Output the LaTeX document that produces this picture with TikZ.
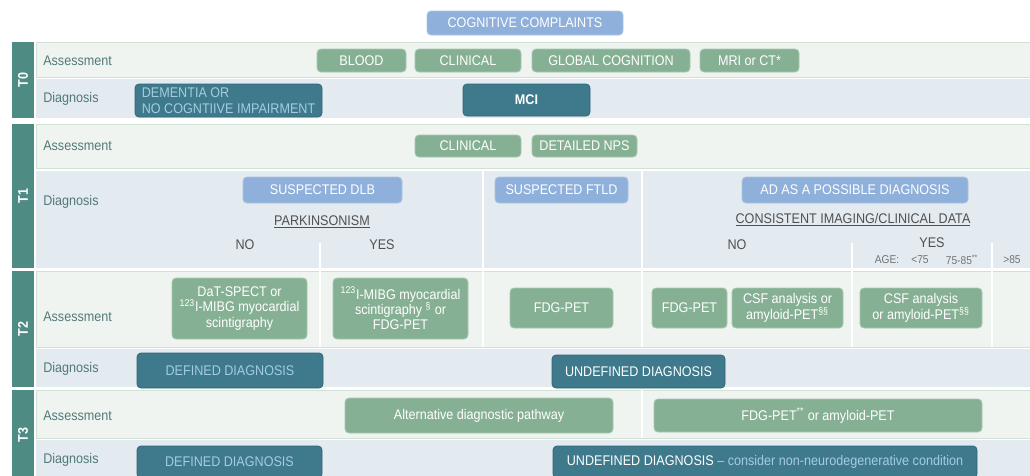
\documentclass[tikz,border=0pt]{standalone}
\usepackage{fontspec}
\setmainfont{Liberation Sans}[FakeStretch=0.9]

\definecolor{tealcol}{RGB}{77,139,131}
\definecolor{assessbg}{RGB}{239,244,240}
\definecolor{diagbg}{RGB}{227,234,240}
\definecolor{rowedge}{RGB}{210,225,214}
\definecolor{greenfill}{RGB}{134,176,148}
\definecolor{greenedge}{RGB}{168,200,178}
\definecolor{bluefill}{RGB}{143,176,218}
\definecolor{blueedge}{RGB}{170,196,228}
\definecolor{darkfill}{RGB}{62,122,140}
\definecolor{darkedge}{RGB}{48,102,118}
\definecolor{paletext}{RGB}{165,204,224}
\definecolor{labeltext}{RGB}{82,122,120}
\definecolor{graytext}{RGB}{80,80,80}

\newcommand{\boxfont}{\fontsize{10.5}{11.6}\selectfont}
\newcommand{\agefont}{\fontsize{8.5}{10}\selectfont}

% box from corner (x1,y1) to corner (x2,y2), in pixel units of the picture
% #1 style, #2 name, #3..#6 corners, #7 text
\newcommand{\cornerbox}[7]{%
  \pgfmathsetmacro\cbx{(#3+#5)/2}%
  \pgfmathsetmacro\cby{(#4+#6)/2}%
  \pgfmathsetmacro\cbw{(#5-#3)*0.75}%
  \pgfmathsetmacro\cbh{(#6-#4)*0.75}%
  \node[#1, minimum width=\cbw pt, minimum height=\cbh pt] (#2) at (\cbx,\cby) {#7};%
}

\tikzset{
  box/.style={inner sep=0pt, rounded corners=3pt, align=center,
              font=\boxfont, line width=0.6pt},
  greenbox/.style={box, fill=greenfill, draw=greenedge, text=white},
  bluebox/.style={box, fill=bluefill, draw=blueedge, text=white},
  darkbox/.style={box, fill=darkfill, draw=darkedge, text=paletext},
  rowlabel/.style={anchor=west, text=labeltext, font=\boxfont, inner sep=0pt},
  tlabel/.style={rotate=90, text=white, font=\bfseries\boxfont},
  plain/.style={text=graytext, font=\boxfont, inner sep=0pt},
  agetext/.style={text=graytext!80, font=\agefont, inner sep=0pt},
  sep/.style={draw=white, line width=2.2pt},
  assessrow/.style={fill=assessbg, draw=rowedge, line width=0.5pt},
  diagrow/.style={fill=diagbg},
}

\begin{document}
\begin{tikzpicture}[x=0.75pt,y=-0.75pt]
\useasboundingbox (0,0) rectangle (1030,475);
\clip (0,0) rectangle (1030,475);
\fill[white] (0,0) rectangle (1030,475);

% ---- stage bands: label column, assessment row, diagnosis row ----
% T0
\fill[tealcol] (12,42) rectangle (34,118);
\filldraw[assessrow] (36,42) rectangle (1040,77);
\fill[diagrow] (36,79) rectangle (1040,118);
% T1
\fill[tealcol] (12,124) rectangle (34,268);
\filldraw[assessrow] (36,124) rectangle (1040,168);
\fill[diagrow] (36,171) rectangle (1040,268);
% T2
\fill[tealcol] (12,271) rectangle (34,387);
\filldraw[assessrow] (36,271) rectangle (1040,347);
\fill[diagrow] (36,349) rectangle (1040,387);
% T3
\fill[tealcol] (12,390) rectangle (34,490);
\filldraw[assessrow] (36,390) rectangle (1040,438);
\fill[diagrow] (36,440) rectangle (1040,490);

% ---- column separators ----
\draw[sep] (483,171) -- (483,347);
\draw[sep] (642,171) -- (642,347);
\draw[sep] (320,243) -- (320,347);
\draw[sep] (852,243) -- (852,347);
\draw[sep] (992,243) -- (992,347);
\draw[sep] (642,390) -- (642,438);

% ---- stage labels ----
\node[tlabel] (t0) at (23,80) {T0};
\node[tlabel] (t1) at (23,196) {T1};
\node[tlabel] (t2) at (23,329) {T2};
\node[tlabel] (t3) at (23,435) {T3};

% ---- row labels ----
\node[rowlabel] (a0) at (43,61) {Assessment};
\node[rowlabel] (d0) at (43,99) {Diagnosis};
\node[rowlabel] (a1) at (43,146) {Assessment};
\node[rowlabel] (d1) at (43,202) {Diagnosis};
\node[rowlabel] (a2) at (43,317) {Assessment};
\node[rowlabel] (d2) at (43,369) {Diagnosis};
\node[rowlabel] (a3) at (43,416) {Assessment};
\node[rowlabel] (d3) at (43,460) {Diagnosis};

% ---- entry point ----
\cornerbox{bluebox}{complaints}{427}{11}{623}{35}{COGNITIVE COMPLAINTS}

% ---- T0 ----
\cornerbox{greenbox}{blood}{317}{49}{406}{72}{BLOOD}
\cornerbox{greenbox}{clin0}{415}{49}{521}{72}{CLINICAL}
\cornerbox{greenbox}{glob}{532}{49}{690}{72}{GLOBAL COGNITION}
\cornerbox{greenbox}{mri}{700}{49}{799}{72}{MRI or CT*}
\cornerbox{darkbox,align=left}{dement}{135}{84}{322}{117}{DEMENTIA OR\\NO COGNTIIVE IMPAIRMENT}
\cornerbox{darkbox,text=white,font=\bfseries\boxfont}{mci}{463}{84}{590}{116}{MCI}

% ---- T1 ----
\cornerbox{greenbox}{clin1}{415}{135}{521}{157}{CLINICAL}
\cornerbox{greenbox}{nps}{532}{135}{637}{157}{DETAILED NPS}
\cornerbox{bluebox}{dlb}{243}{177}{402}{203}{SUSPECTED DLB}
\cornerbox{bluebox}{ftld}{495}{177}{628}{203}{SUSPECTED FTLD}
\cornerbox{bluebox}{ad}{742}{177}{968}{203}{AD AS A POSSIBLE DIAGNOSIS}

\node[plain] (park) at (322,222) {\underline{PARKINSONISM}};
\node[plain] (parkno) at (245,245) {NO};
\node[plain] (parkyes) at (382,245) {YES};
\node[plain] (cons) at (853,220) {\underline{CONSISTENT IMAGING/CLINICAL DATA}};
\node[plain] (consno) at (737,245) {NO};
\node[plain] (consyes) at (932,243) {YES};
\node[agetext] (age) at (887,260) {AGE:};
\node[agetext] (age1) at (920,260) {<75};
\node[agetext] (age2) at (962,260) {75-85\textsuperscript{**}};
\node[agetext] (age3) at (1012,260) {>85};

% ---- T2 ----
\cornerbox{greenbox}{dat}{172}{278}{307}{339}{DaT-SPECT or\\\textsuperscript{123}I-MIBG myocardial\\scintigraphy}
\cornerbox{greenbox}{mibg}{333}{278}{468}{339}{\textsuperscript{123}I-MIBG myocardial\\scintigraphy \textsuperscript{§} or\\FDG-PET}
\cornerbox{greenbox}{fdg1}{510}{288}{613}{328}{FDG-PET}
\cornerbox{greenbox}{fdg2}{652}{288}{727}{328}{FDG-PET}
\cornerbox{greenbox}{csf1}{732}{288}{843}{328}{CSF analysis or\\amyloid-PET\textsuperscript{§§}}
\cornerbox{greenbox}{csf2}{860}{288}{982}{328}{CSF analysis\\or amyloid-PET\textsuperscript{§§}}
\cornerbox{darkbox}{def2}{137}{353}{323}{388}{DEFINED DIAGNOSIS}
\cornerbox{darkbox,text=white}{undef2}{552}{355}{725}{388}{UNDEFINED DIAGNOSIS}

% ---- T3 ----
\cornerbox{greenbox}{alt}{345}{398}{613}{433}{Alternative diagnostic pathway}
\cornerbox{greenbox}{fdg3}{654}{399}{982}{432}{FDG-PET\textsuperscript{**} or amyloid-PET}
\cornerbox{darkbox}{def3}{137}{446}{322}{478}{DEFINED DIAGNOSIS}
\cornerbox{darkbox,text=white}{undef3}{553}{446}{977}{478}{UNDEFINED DIAGNOSIS {\color{paletext} – consider non-neurodegenerative condition}}

\end{tikzpicture}
\end{document}
